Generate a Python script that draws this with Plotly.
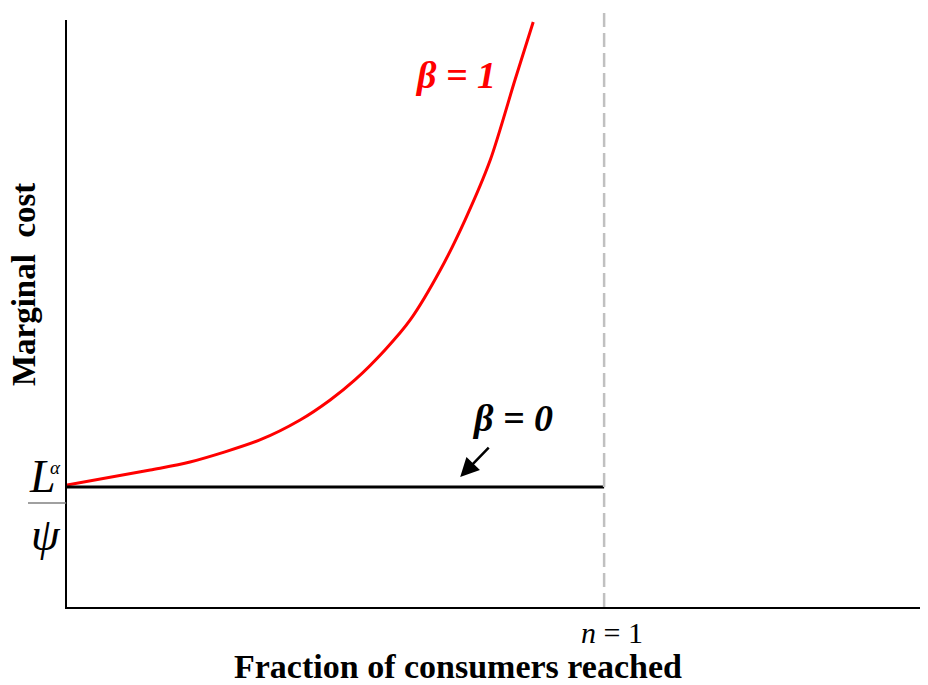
import plotly.graph_objects as go

# Curva beta = 1
beta1_x = [0.0, 0.155, 0.229, 0.359, 0.434, 0.490, 0.536, 0.592, 0.639, 0.695, 0.741, 0.788, 0.834, 0.868]
beta1_y = [1.017, 1.142, 1.208, 1.392, 1.558, 1.725, 1.892, 2.142, 2.392, 2.808, 3.225, 3.725, 4.392, 4.875]

# Curva beta = 0 (constante)
beta0_x = [0.0, 1.0]
beta0_y = [1.0, 1.0]

n_max = 1.0
x_range = [0, 1.603]
y_range = [0, 4.892]

SERIF = "Liberation Serif, Times New Roman, serif"

fig = go.Figure()

fig.add_trace(go.Scatter(
    x=beta1_x, y=beta1_y, mode='lines',
    line=dict(color='#ff0000', width=3, shape='spline', smoothing=0.8),
    showlegend=False, hoverinfo='skip'
))
fig.add_trace(go.Scatter(
    x=beta0_x, y=beta0_y, mode='lines',
    line=dict(color='#000000', width=3),
    showlegend=False, hoverinfo='skip'
))

# Línea vertical discontinua en n = 1
fig.add_shape(type='line', xref='x', yref='paper', x0=n_max, x1=n_max, y0=0, y1=1.019,
              line=dict(color='#c0c0c0', width=2.5, dash='14px,6px'))

# Etiquetas de las curvas
fig.add_annotation(x=0.7225, y=4.433, text='<b><i>β = 1</i></b>', showarrow=False,
                   font=dict(family=SERIF, size=38, color='#ff0000'))
fig.add_annotation(x=0.829, y=1.575, text='<b><i>β = 0</i></b>', showarrow=False,
                   font=dict(family=SERIF, size=38, color='#000000'))
fig.add_annotation(x=0.732, y=1.083, ax=30, ay=-31, text='', showarrow=True,
                   arrowhead=2, arrowsize=1.5, arrowwidth=2.5, arrowcolor='#000000')

# Etiqueta del eje y: L^alpha / psi
fig.add_annotation(xref='paper', yref='paper', x=-0.028, y=0.222, xanchor='center', yanchor='middle',
                   text='<i>L</i>', showarrow=False,
                   font=dict(family=SERIF, size=46, color='#000000'))
fig.add_annotation(xref='paper', yref='paper', x=-0.0135, y=0.238, xanchor='center', yanchor='middle',
                   text='<i>α</i>', showarrow=False,
                   font=dict(family=SERIF, size=19, color='#000000'))
fig.add_annotation(xref='paper', yref='paper', x=-0.0245, y=0.124, xanchor='center', yanchor='middle',
                   text='<i>ψ</i>', showarrow=False,
                   font=dict(family=SERIF, size=46, color='#000000'))
fig.add_shape(type='line', xref='paper', yref='paper', x0=-0.0453, x1=-0.001, y0=0.177, y1=0.177,
              line=dict(color='#808080', width=1.5))

# Etiqueta n = 1
fig.add_annotation(xref='paper', yref='paper', x=0.633, y=-0.043, xanchor='center', yanchor='middle',
                   text='<i>n</i> = 1', showarrow=False,
                   font=dict(family=SERIF, size=30, color='#000000'))

# Títulos de los ejes
fig.add_annotation(xref='paper', yref='paper', x=0.454, y=-0.102, xanchor='center', yanchor='middle',
                   text='<b>Fraction of consumers reached</b>', showarrow=False,
                   font=dict(family=SERIF, size=34, color='#000000'))
fig.add_annotation(xref='paper', yref='paper', x=-0.05, y=0.55, xanchor='center', yanchor='middle',
                   textangle=-90, text='<b>Marginal  cost</b>', showarrow=False,
                   font=dict(family=SERIF, size=33, color='#000000'))

fig.update_layout(
    width=920, height=677,
    paper_bgcolor='white', plot_bgcolor='white',
    margin=dict(l=59, r=0, t=12, b=78),
    font=dict(family=SERIF, color='#000000'),
    xaxis=dict(range=x_range, showgrid=False, zeroline=False, showticklabels=False,
               showline=True, linecolor='#000000', linewidth=2),
    yaxis=dict(range=y_range, showgrid=False, zeroline=False, showticklabels=False,
               showline=True, linecolor='#000000', linewidth=2),
)

fig.write_html("out.html")
